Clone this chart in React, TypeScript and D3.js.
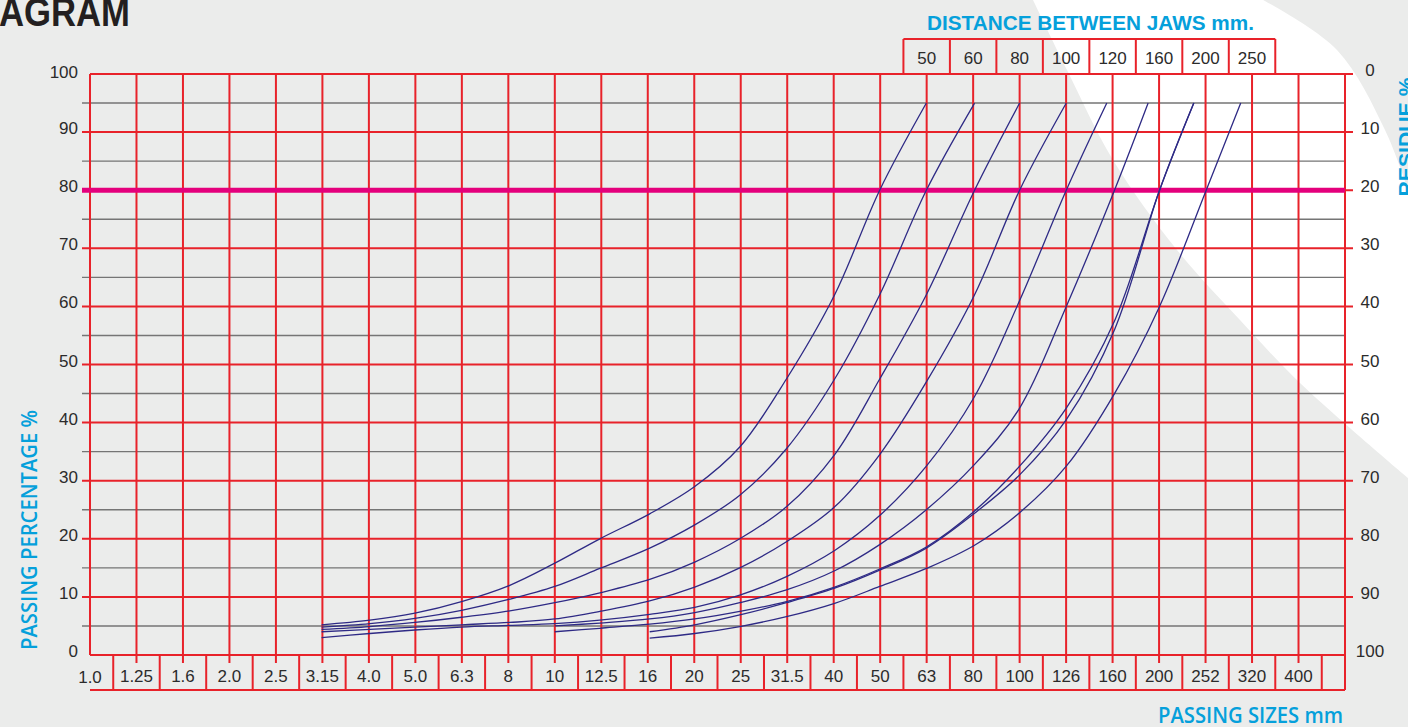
import * as d3 from 'd3';
import { useEffect } from 'react';

const W = 1408;
const H = 727;

// passing sizes (mm) on the bottom axis, one per grid column
const sizeLabels = ['1.0', '1.25', '1.6', '2.0', '2.5', '3.15', '4.0', '5.0', '6.3', '8', '10', '12.5', '16', '20', '25', '31.5', '40', '50', '63', '80', '100', '126', '160', '200', '252', '320', '400'];
const passingTicks = [0, 10, 20, 30, 40, 50, 60, 70, 80, 90, 100];
const minorTicks = [5, 15, 25, 35, 45, 55, 65, 75, 85, 95];
const jawLabels = ['50', '60', '80', '100', '120', '160', '200', '250'];
const markedPassing = 80;

// grading curves: [size mm, passing %]
const curveJaw50 = [[3.15, 5.2], [4, 6.0], [5, 7.2], [6.3, 9.2], [8, 12.0], [10, 15.8], [12.5, 20.0], [16, 24.3], [20, 29.0], [25, 35.8], [31.5, 47.5], [40, 62], [50, 80], [63, 95]];
const curveJaw60 = [[3.15, 4.8], [4, 5.4], [5, 6.3], [6.3, 7.7], [8, 9.6], [10, 11.8], [12.5, 14.9], [16, 18.4], [20, 22.4], [25, 27.5], [31.5, 35.5], [40, 47.5], [50, 62], [63, 80], [80, 95]];
const curveJaw80 = [[3.15, 4.4], [4, 4.9], [5, 5.6], [6.3, 6.5], [8, 7.6], [10, 9.0], [12.5, 10.7], [16, 13.0], [20, 16.0], [25, 20.0], [31.5, 25.5], [40, 34.5], [50, 47.5], [63, 62], [80, 80], [100, 95]];
const curveJaw100 = [[3.15, 4.0], [4, 4.4], [5, 4.8], [6.3, 5.2], [8, 5.6], [10, 6.2], [12.5, 7.5], [16, 9.3], [20, 11.7], [25, 15.0], [31.5, 19.5], [40, 25.5], [50, 34.5], [63, 47.0], [80, 62], [100, 80], [126, 95]];
const curveJaw120 = [[3.15, 3.0], [4, 3.7], [5, 4.3], [6.3, 4.8], [8, 5.1], [10, 5.4], [12.5, 6.0], [16, 7.0], [20, 8.2], [25, 10.3], [31.5, 13.5], [40, 18.0], [50, 24.0], [63, 32.5], [80, 44.5], [100, 61], [126, 80], [154, 95]];
const curveJaw160 = [[10, 5.0], [12.5, 5.5], [16, 6.2], [20, 7.3], [25, 9.0], [31.5, 11.2], [40, 14.5], [50, 19.0], [63, 25.0], [80, 32.8], [100, 42.5], [126, 60], [160, 80], [189, 95]];
const curveJaw200a = [[10, 4.0], [12.5, 4.6], [16, 5.3], [20, 6.2], [25, 7.5], [31.5, 9.2], [40, 11.7], [50, 14.8], [63, 18.6], [80, 24.8], [100, 32.5], [126, 42.5], [160, 57.5], [200, 80], [237, 95]];
const curveJaw200b = [[16, 4.0], [20, 5.2], [25, 6.9], [31.5, 9.0], [40, 11.5], [50, 14.6], [63, 18.4], [80, 24.4], [100, 31.0], [126, 40.5], [160, 56.0], [200, 80], [237, 95]];
const curveJaw250 = [[16, 2.9], [20, 3.7], [25, 4.9], [31.5, 6.6], [40, 8.9], [50, 11.8], [63, 14.9], [80, 18.9], [100, 24.5], [126, 32.5], [160, 45], [200, 60], [252, 80], [299, 95]];

const curves = [curveJaw50, curveJaw60, curveJaw80, curveJaw100, curveJaw120, curveJaw160, curveJaw200a, curveJaw200b, curveJaw250];

const RED = '#e8222a';
const BLUE = '#05a0db';
const INK = '#2b2b2b';
const NUM_FONT = '"Liberation Sans", Arial, sans-serif';
const LABEL_FONT = '"Open Sans", "Noto Sans", sans-serif';

export default function App() {
  useEffect(() => {
    document.body.style.margin = '0';
  }, []);

  const left = 90;
  const right = 1345;
  const top = 74;
  const bottom = 655;

  const x = d3.scaleLog().domain([1, 10 ** (sizeLabels.length / 10)]).range([left, right]);
  const y = d3.scaleLinear().domain([0, 100]).range([bottom, top]);
  const colX = (i: number) => x(10 ** (i / 10));

  const line = d3.line<number[]>()
    .x(d => x(d[0]))
    .y(d => y(d[1]))
    .curve(d3.curveCatmullRom.alpha(0.5));

  // white swoosh across the top right of the page
  const swoosh = d3.line().curve(d3.curveCatmullRom)([
    [1033, 0], [1067, 70], [1113, 160], [1177, 250], [1240, 320], [1300, 383], [1408, 478],
  ]);
  const swooshBack = d3.line().curve(d3.curveCatmullRom)([
    [1408, 190], [1385, 130], [1337, 50], [1263, 0],
  ]);
  const swooshPath = `${swoosh}L${swooshBack!.slice(1)}Z`;

  const jawStart = 17.5;
  const boxBottom = 690;
  const jawTop = 39;

  return (
    <svg width={W} height={H} style={{ position: 'absolute', left: 0, top: 0, display: 'block' }}>
      <rect width={W} height={H} fill="#ebeceb" />
      <path d={swooshPath} fill="#ffffff" />

      {/* minor grey lines */}
      {minorTicks.map(p => (
        <line key={`m${p}`} x1={82} x2={right} y1={y(p)} y2={y(p)} stroke="#757575" strokeWidth={1.4} />
      ))}

      {/* red horizontal lines */}
      {passingTicks.map(p => (
        <line
          key={`h${p}`}
          x1={p === 0 || p === 100 ? left : 82}
          x2={p === 0 ? right : 1353}
          y1={y(p)}
          y2={y(p)}
          stroke={RED}
          strokeWidth={2}
        />
      ))}

      {/* red vertical lines */}
      <line x1={left} x2={left} y1={top} y2={bottom} stroke={RED} strokeWidth={2} />
      <line x1={right} x2={right} y1={top} y2={boxBottom} stroke={RED} strokeWidth={2} />
      {sizeLabels.map((_, i) => i === 0 ? null : (
        <line key={`v${i}`} x1={colX(i)} x2={colX(i)} y1={top} y2={663} stroke={RED} strokeWidth={2} />
      ))}

      {/* bottom label box */}
      <line x1={left} x2={right} y1={boxBottom} y2={boxBottom} stroke={RED} strokeWidth={2} />
      {sizeLabels.map((_, i) => (
        <line key={`d${i}`} x1={colX(i + 0.5)} x2={colX(i + 0.5)} y1={bottom} y2={boxBottom} stroke={RED} strokeWidth={2} />
      ))}
      {sizeLabels.map((s, i) => (
        <text key={`s${i}`} x={colX(i)} y={i === 0 ? 683 : 682} textAnchor="middle" fontFamily={NUM_FONT} fontSize={17} fill={INK}>
          {s}
        </text>
      ))}

      {/* jaw distance box */}
      <line x1={colX(jawStart)} x2={colX(jawStart + jawLabels.length)} y1={jawTop} y2={jawTop} stroke={RED} strokeWidth={2} />
      {d3.range(jawLabels.length + 1).map(k => (
        <line key={`j${k}`} x1={colX(jawStart + k)} x2={colX(jawStart + k)} y1={jawTop} y2={top} stroke={RED} strokeWidth={2} />
      ))}
      {jawLabels.map((j, k) => (
        <text key={`jl${k}`} x={colX(jawStart + 0.5 + k)} y={64} textAnchor="middle" fontFamily={NUM_FONT} fontSize={17} fill={INK}>
          {j}
        </text>
      ))}

      {/* 80% marker */}
      <line x1={82} x2={right} y1={y(markedPassing)} y2={y(markedPassing)} stroke="#e4007c" strokeWidth={5} />

      {/* grading curves */}
      {curves.map((c, i) => (
        <path key={`c${i}`} d={line(c) ?? ''} fill="none" stroke="#2e2a85" strokeWidth={1.3} />
      ))}

      {/* left and right axis numbers */}
      {passingTicks.map(p => (
        <text key={`l${p}`} x={78} y={y(p) + (p === 100 ? 4 : 2)} textAnchor="end" fontFamily={NUM_FONT} fontSize={17} fill={INK}>
          {p}
        </text>
      ))}
      {passingTicks.map(p => (
        <text key={`r${p}`} x={1370} y={y(p) + 2} textAnchor="middle" fontFamily={NUM_FONT} fontSize={17} fill={INK}>
          {100 - p}
        </text>
      ))}

      {/* titles */}
      <text x={-1} y={26} fontFamily={NUM_FONT} fontWeight="bold" fontSize={40} fill="#231f20" textLength={131} lengthAdjust="spacingAndGlyphs">
        AGRAM
      </text>
      <text x={1090.5} y={30} textAnchor="middle" fontFamily={NUM_FONT} fontWeight={900} fontSize={20.5} fill={BLUE} textLength={327} lengthAdjust="spacingAndGlyphs">
        DISTANCE BETWEEN JAWS mm.
      </text>
      <text x={1343} y={723} textAnchor="end" fontFamily={LABEL_FONT} fontWeight={600} fontSize={21} fill={BLUE} textLength={185} lengthAdjust="spacingAndGlyphs">
        PASSING SIZES mm
      </text>
      <text transform="translate(37,530) rotate(-90)" textAnchor="middle" fontFamily={LABEL_FONT} fontWeight={600} fontSize={21} fill={BLUE} textLength={240} lengthAdjust="spacingAndGlyphs">
        PASSING PERCENTAGE %
      </text>
      <text transform="translate(1413,137) rotate(-90)" textAnchor="middle" fontFamily={NUM_FONT} fontWeight={900} fontSize={20.5} fill={BLUE} textLength={119} lengthAdjust="spacingAndGlyphs">
        RESIDUE %
      </text>
    </svg>
  );
}
